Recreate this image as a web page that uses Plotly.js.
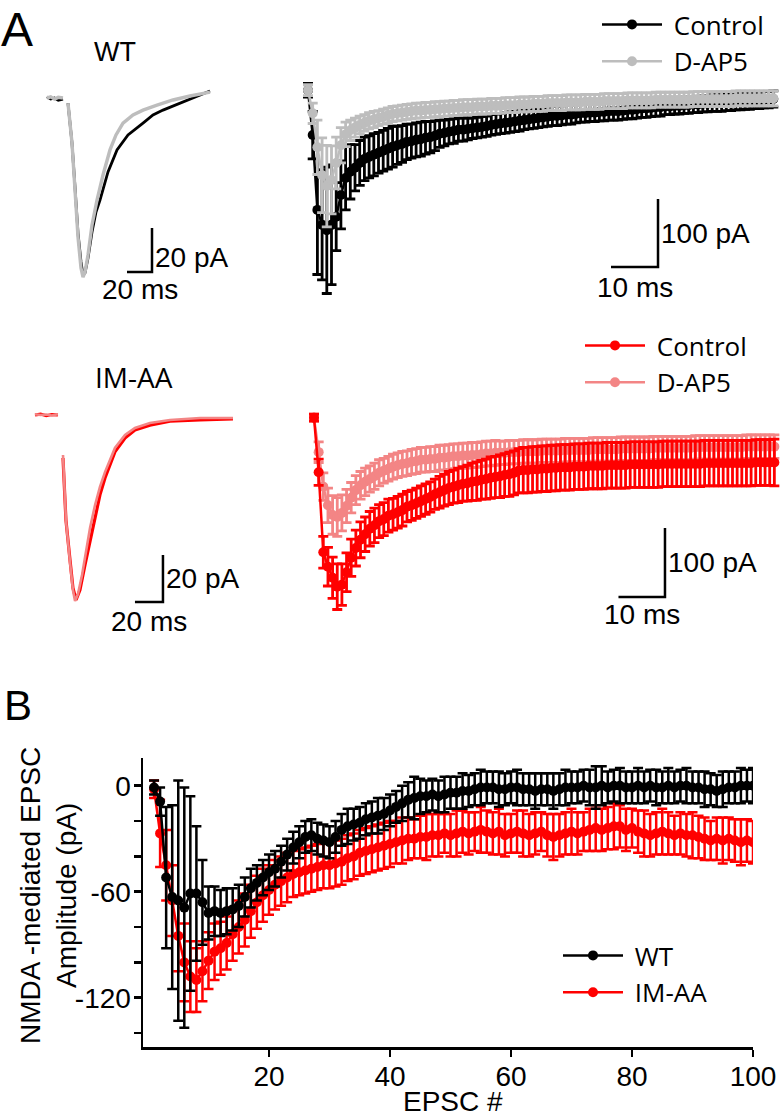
<!DOCTYPE html>
<html><head><meta charset="utf-8">
<script src="https://cdn.plot.ly/plotly-3.0.1.min.js"></script>
<style>html,body{margin:0;padding:0;background:#fff}#chart{width:782px;height:1118px}</style>
</head><body><div id="chart"></div>
<script>
// ---------------- DATA ----------------
// Panel A, example traces (time in ms, current in pA)
const wtCtrlTraceT = [0,3,6,9,12.8,null,16.8,20,22.4,24.8,27.2,28.8,30.4,32.8,36,39.2,42.4,48.8,56,64.8,76.8,84.8,92.8,102.4,112,120.8,130.4];
const wtCtrlTraceI = [0.5,-0.5,0,-1,-0.5,null,-2.3,-20.5,-40.5,-61.4,-74.5,-80.5,-79.5,-72.7,-60.9,-51.8,-46.4,-33.6,-23.6,-16.8,-11.4,-7.7,-5.5,-3.2,-0.9,0.9,3.2];
const wtDap5TraceT = [0,3,6,9,12.8,null,16.8,20,22.4,24.8,27.2,28.8,30.4,32.8,36,40,44.8,50.4,55.2,60.8,68.8,76.8,88,100.8,114.4,130.4];
const wtDap5TraceI = [0,0.5,-0.5,0.3,0,null,-2.3,-20.5,-41.8,-63.2,-77.3,-81.4,-79.1,-71.4,-57.7,-46.4,-35,-23.6,-16.8,-11.4,-7.7,-5.5,-3.2,-0.9,0.9,2.7];
const imCtrlTraceT = [0,4,8,12,16.4,null,20,22.1,25,27.1,29.3,32.1,35.7,39.3,42.9,46.4,50,53.6,57.1,64.3,71.4,82.1,96.4,117.9,141.4];
const imCtrlTraceI = [0,0.4,-0.3,0.2,0,null,-18.3,-44.7,-61.7,-73.6,-78.7,-74.5,-63.8,-53.2,-42.6,-34,-26.8,-21.3,-15.7,-9.8,-6.4,-4.3,-2.6,-2.1,-1.7];
const imDap5TraceT = [0,4,8,12,16.4,null,20,22.1,25,27.1,28.6,30.7,33.6,36.4,39.3,42.9,46.4,50,53.6,57.1,64.3,71.4,82.1,96.4,117.9,141.4];
const imDap5TraceI = [0.3,0,0.2,-0.2,0.3,null,-17,-44.7,-62.6,-74.5,-79.1,-76.2,-68.1,-57.4,-48.1,-38.3,-30.6,-24.3,-19.1,-14,-8.5,-5.5,-3.4,-2.1,-1.3,-1.3];

// EPSC number in the train
const epscNum = Array.from({length:100},(_,k)=>k+1);

// Panel A right, WT: amplitude (pA) and SEM
const wtCtrlAmp = [-15,-81,-191,-213,-221,-213,-201,-169,-144,-135,
 -129,-122,-116,-113,-110,-107,-104,-101,-98,-96,
 -94,-91,-90,-88,-87,-85,-84,-82,-79,-78,
 -76,-75,-73,-73,-72,-71,-70,-69,-68,-66,
 -65,-64,-63,-62,-61,-60,-59,-58,-57,-56,
 -55,-54,-53,-53,-52,-51,-51,-50,-49,-49,
 -48,-48,-47,-47,-46,-46,-46,-45,-44,-44,
 -43,-42,-42,-41,-40,-40,-39,-39,-38,-38,
 -37,-37,-36,-36,-35,-35,-34,-34,-34,-33,
 -33,-32,-32,-31,-31,-30,-30,-29,-29,-28];
const wtCtrlSem = [10,35,95,81,93,88,50,50,47,40,
 34,33,32,31,31,30,30,30,30,28,
 27,26,25,25,25,24,23,22,20,19,
 18,18,17,17,16,15,15,15,15,15,
 15,15,15,15,15,15,14,14,14,14,
 14,14,14,14,14,14,14,13,13,13,
 13,13,13,13,13,13,13,13,13,13,
 13,13,13,13,13,13,12,12,12,12,
 12,12,12,12,12,12,12,12,12,12,
 12,12,12,12,12,12,12,12,12,12];
const wtDap5Amp = [-15,-49,-99,-140,-156,-147,-122,-96,-80,-74,
 -70,-66,-63,-60,-58,-56,-54,-52,-50,-49,
 -48,-47,-46,-45,-45,-44,-44,-43,-43,-42,
 -42,-41,-41,-40,-40,-40,-39,-39,-39,-38,
 -38,-38,-37,-37,-37,-36,-36,-36,-35,-35,
 -35,-34,-34,-34,-34,-33,-33,-33,-33,-32,
 -32,-32,-32,-31,-31,-31,-31,-31,-30,-30,
 -30,-30,-30,-30,-29,-29,-29,-29,-29,-29,
 -29,-29,-28,-28,-28,-28,-28,-28,-28,-28,
 -28,-27,-27,-27,-27,-27,-27,-27,-27,-27];
const wtDap5Sem = [8,15,40,55,60,50,38,26,18,15,
 14,13,12,12,12,11,11,11,11,11,
 11,11,11,11,11,11,11,11,11,11,
 11,11,11,11,11,11,11,11,11,11,
 11,11,11,11,11,11,11,11,11,11,
 11,11,11,11,11,11,11,11,11,11,
 11,11,11,11,11,11,11,11,11,11,
 11,11,11,11,11,11,11,11,11,11,
 11,11,11,11,11,11,11,11,11,11,
 11,11,11,11,11,11,11,11,11,11];

// Panel A right, IM-AA
const imCtrlAmp = [-14,-93,-209,-230,-246,-259,-256,-238,-217,-203,
 -191,-183,-175,-170,-164,-161,-156,-154,-151,-148,
 -143,-141,-138,-135,-132,-129,-125,-122,-119,-116,
 -114,-112,-110,-109,-107,-106,-104,-103,-101,-100,
 -99,-97,-96,-94,-91,-90,-90,-89,-89,-88,
 -88,-87,-87,-86,-86,-86,-85,-85,-85,-84,
 -84,-84,-84,-83,-83,-83,-83,-83,-82,-82,
 -82,-82,-82,-82,-82,-81,-81,-81,-81,-81,
 -81,-81,-81,-81,-80,-80,-80,-80,-80,-80,
 -80,-80,-80,-80,-80,-79,-79,-79,-79,-79];
const imCtrlSem = [5,19,23,28,30,33,30,28,27,26,
 26,25,25,25,24,24,24,23,23,23,
 22,22,22,22,22,22,22,23,23,24,
 24,25,25,26,27,28,28,29,30,30,
 31,31,32,32,32,33,33,33,33,33,
 33,33,33,33,33,33,33,33,33,33,
 33,33,33,33,33,33,33,33,33,33,
 33,33,33,33,33,33,33,33,33,33,
 33,33,33,33,33,33,33,33,33,33,
 33,33,33,33,33,33,33,33,33,34];
const imDap5Amp = [-14,-64,-114,-141,-155,-158,-152,-142,-130,-119,
 -112,-107,-103,-99,-94,-91,-88,-85,-83,-81,
 -80,-78,-77,-75,-75,-74,-74,-72,-72,-71,
 -70,-70,-69,-69,-68,-68,-67,-66,-66,-65,
 -65,-65,-64,-64,-64,-63,-63,-63,-63,-62,
 -62,-62,-62,-62,-61,-61,-61,-61,-61,-61,
 -60,-60,-60,-60,-60,-60,-59,-59,-59,-59,
 -59,-59,-59,-58,-58,-58,-58,-58,-58,-58,
 -58,-58,-57,-57,-57,-57,-57,-57,-57,-57,
 -57,-57,-57,-56,-56,-56,-56,-56,-56,-56];
const imDap5Sem = [5,15,20,25,28,28,26,24,22,21,
 20,20,19,19,19,18,18,18,18,18,
 18,18,18,18,18,18,18,18,18,18,
 18,18,18,18,18,18,18,18,18,18,
 17,17,17,17,17,17,17,17,17,17,
 17,17,17,17,17,17,17,17,17,17,
 17,17,17,17,17,17,17,17,17,17,
 17,17,17,17,17,17,17,17,17,17,
 17,17,17,17,17,17,17,17,17,17,
 17,17,17,17,17,17,17,17,17,17];

// Panel B: NMDA-mediated EPSC amplitude (pA), mean and SEM
const wtNmda = [-1,-9,-52,-63,-65,-69,-61,-61,-66,-72,
 -71,-72,-71,-70,-68,-63,-58,-55,-52,-49,
 -47,-43,-39,-35,-32,-29,-28,-30,-31,-32,
 -29,-25,-23,-22,-21,-19,-18,-17,-16,-14,
 -12,-10,-8,-7,-6,-6,-5,-6,-5,-4,
 -4,-3,-3,-2,-1,-1,-1,-2,-2,-1,
 -1,-2,-2,-3,-2,-2,-3,-2,-1,-1,
 -1,0,-1,-1,0,-1,0,0,-1,-1,
 0,-1,0,-1,-1,0,-1,0,0,-1,
 -1,-2,-2,-3,-2,-1,-1,0,0,0];
const wtNmdaSem = [4,8,40,52,68,68,55,38,24,15,
 14,13,13,12,12,11,11,10,10,10,
 10,9,9,9,9,9,9,9,9,9,
 9,9,10,9,9,9,9,10,9,9,
 9,10,10,12,10,9,9,9,10,9,
 9,10,9,9,10,9,9,10,9,9,
 10,9,9,10,9,9,10,9,10,9,
 9,9,10,12,11,9,9,10,9,9,
 10,9,9,10,9,10,9,9,10,9,
 9,10,9,9,10,9,9,10,9,10];
const imNmda = [-2,-27,-45,-65,-85,-100,-108,-110,-105,-99,
 -94,-92,-89,-84,-80,-76,-71,-66,-62,-59,
 -56,-54,-52,-50,-49,-48,-47,-46,-45,-45,
 -44,-43,-41,-40,-38,-37,-36,-35,-34,-33,
 -32,-31,-30,-30,-29,-29,-28,-28,-27,-28,
 -27,-26,-27,-26,-25,-26,-27,-26,-28,-27,
 -26,-27,-28,-27,-26,-28,-29,-28,-27,-26,
 -27,-26,-25,-24,-25,-24,-23,-23,-25,-24,
 -26,-27,-28,-27,-26,-27,-28,-27,-28,-28,
 -29,-30,-31,-30,-31,-30,-31,-32,-31,-32];
const imNmdaSem = [5,19,20,20,20,22,20,18,17,16,
 16,15,15,15,15,15,15,15,15,14,
 14,14,14,13,13,13,13,13,13,13,
 13,13,13,13,13,13,13,13,13,13,
 12,13,12,11,12,13,12,12,11,12,
 13,12,12,11,13,12,12,13,12,11,
 12,13,12,12,11,12,13,12,12,13,
 12,11,12,13,12,12,13,12,12,11,
 12,13,12,12,13,12,11,12,12,13,
 12,12,11,12,13,12,12,13,12,12];

// ---------------- LAYOUT HELPERS ----------------
const W = 782, H = 1118;
const xd = (a,b) => [a/W, b/W];
const yd = (top,bot) => [1-bot/H, 1-top/H];
const xr = (lo,hi,px0,v0,s) => [v0+(lo-px0)/s, v0+(hi-px0)/s];
const yr = (top,bot,py0,s) => [(py0-bot)/s, (py0-top)/s];

const BLACK='#000000', GRAY='#bdbdbd', RED='#ff0000', PINK='#f38585';
const SANS='Liberation Sans, Arial, sans-serif';
const HUM='Open Sans, DejaVu Sans, sans-serif';
const NB='\u00a0';

function lineTrace(x,y,color,width){
  return {x:x,y:y,mode:'lines',line:{color:color,width:width},
    showlegend:false,hoverinfo:'skip',connectgaps:false};
}
function errTrace(name,y,err,color,ax,leg,rank,msize,ew,th){
  return {x:epscNum,y:y,name:NB+name,mode:'lines+markers',xaxis:'x'+ax,yaxis:'y'+ax,
    line:{color:color,width:2.5},marker:{color:color,size:msize},
    error_y:{type:'data',array:err,visible:true,color:color,thickness:th,width:ew},
    legend:leg,legendrank:rank,hoverinfo:'skip'};
}
function onAxes(t,ax){ t.xaxis='x'+ax; t.yaxis='y'+ax; return t; }

const data = [
  onAxes(lineTrace(wtCtrlTraceT,wtCtrlTraceI,BLACK,2.8),''),
  onAxes(lineTrace(wtDap5TraceT,wtDap5TraceI,GRAY,3.4),''),
  errTrace('Control',wtCtrlAmp,wtCtrlSem,BLACK,'2','legend',1,10,5,2.8),
  errTrace('D-AP5',wtDap5Amp,wtDap5Sem,GRAY,'2','legend',2,10,5,2.8),
  onAxes(lineTrace(imCtrlTraceT,imCtrlTraceI,RED,3.2),'3'),
  onAxes(lineTrace(imDap5TraceT,imDap5TraceI,PINK,2.6),'3'),
  errTrace('D-AP5',imDap5Amp,imDap5Sem,PINK,'4','legend2',2,10,5,2.8),
  errTrace('Control',imCtrlAmp,imCtrlSem,RED,'4','legend2',1,10,5,2.8),
  errTrace('IM-AA',imNmda,imNmdaSem,RED,'5','legend3',2,10,5,2.5),
  errTrace('WT',wtNmda,wtNmdaSem,BLACK,'5','legend3',1,10,5,2.5)
];
data[0].xaxis='x'; data[0].yaxis='y'; data[1].xaxis='x'; data[1].yaxis='y';

const hidden = (dom,rng) => ({domain:dom,range:rng,visible:false,fixedrange:true});

// scale bars: corner and lengths in data units of each panel
const bars = [
  {ax:'',  x:84,    y:-79.1, dx:20, dy:20, lx:'20 ms', ly:'20 pA', tyShift:-7, txShift:0},
  {ax:'2', x:75.47, y:-275,  dx:10, dy:100, lx:'10 ms', ly:'100 pA', tyShift:0, txShift:-3},
  {ax:'3', x:91.4,  y:-79.6, dx:20, dy:20, lx:'20 ms', ly:'20 pA', tyShift:0, txShift:-2},
  {ax:'4', x:76.48, y:-273.9,dx:10, dy:100, lx:'10 ms', ly:'100 pA', tyShift:0, txShift:0}
];
const shapes = [], annotations = [];
bars.forEach(b=>{
  const xa='x'+b.ax, ya='y'+b.ax;
  shapes.push({type:'path',xref:xa,yref:ya,
    path:`M${b.x-b.dx},${b.y} L${b.x},${b.y} L${b.x},${b.y+b.dy}`,
    line:{color:BLACK,width:2.5}});
  annotations.push({xref:xa,yref:ya,x:b.x,y:b.y+b.dy/2,text:b.ly,showarrow:false,
    xanchor:'left',yanchor:'middle',xshift:1,yshift:b.tyShift,font:{family:SANS,size:28,color:BLACK}});
  annotations.push({xref:xa,yref:ya,x:b.x-b.dx/2,y:b.y,text:b.lx,showarrow:false,
    xanchor:'center',yanchor:'top',yshift:b.txShift,font:{family:SANS,size:28,color:BLACK}});
});
const pap = (px,py,text,size,fam,opts) => Object.assign({xref:'paper',yref:'paper',x:px/W,y:1-py/H,text:text,
  showarrow:false,xanchor:'center',yanchor:'middle',font:{family:fam,size:size,color:BLACK}},opts||{});
annotations.push(pap(17,30,'A',48,SANS));
annotations.push(pap(18,705,'B',42,SANS));
annotations.push(pap(115,52,'WT',27,SANS));
annotations.push(pap(134,377,'IM-AA',28,HUM));
annotations.push(pap(48,896,'NMDA -mediated EPSC<br>Amplitude (pA)',28,SANS,{textangle:-90}));
annotations.push(pap(453,1101,'EPSC #',28,SANS));

const legendBase = (x,y) => ({x:x/W,y:1-y/H,xanchor:'left',yanchor:'top',bgcolor:'rgba(0,0,0,0)',
  borderwidth:0,itemwidth:60,tracegroupgap:0,font:{family:HUM,size:26,color:BLACK},itemclick:false,itemdoubleclick:false});

const layout = {
  width:W,height:H,margin:{l:0,r:0,t:0,b:0},paper_bgcolor:'#fff',plot_bgcolor:'rgba(0,0,0,0)',
  showlegend:true,
  xaxis: hidden(xd(40,240), xr(40,240,47,0,1.25)),
  yaxis: hidden(yd(80,295), yr(80,295,98,2.2)),
  xaxis2: hidden(xd(295,780), xr(295,780,308,1,4.7)),
  yaxis2: hidden(yd(75,300), yr(75,300,80,0.68)),
  xaxis3: hidden(xd(25,245), xr(25,245,35,0,1.4)),
  yaxis3: hidden(yd(400,640), yr(400,640,415,2.35)),
  xaxis4: hidden(xd(300,780), xr(300,780,314,1,4.65)),
  yaxis4: hidden(yd(400,620), yr(400,620,408,0.69)),
  xaxis5: {domain:xd(143,753),range:xr(143,753,148,0,6.05),anchor:'y5',showgrid:false,zeroline:false,
    showline:true,linecolor:BLACK,linewidth:2.5,ticks:'outside',ticklen:7,tickwidth:2.5,tickcolor:BLACK,
    tickvals:[20,40,60,80,100],tickfont:{family:SANS,size:28,color:BLACK},ticklabelstandoff:-4,fixedrange:true},
  yaxis5: {domain:yd(758,1047),range:yr(758,1047,785.7,1.767),anchor:'x5',showgrid:false,zeroline:false,
    showline:true,linecolor:BLACK,linewidth:2.5,ticks:'outside',ticklen:7,tickwidth:2.5,tickcolor:BLACK,
    tickvals:[0,-20,-40,-60,-80,-100,-120,-140],ticktext:['0','','','-60','','','-120',''],
    tickfont:{family:SANS,size:28,color:BLACK},ticklabelstandoff:-3,fixedrange:true},
  legend: legendBase(597,1),
  legend2: legendBase(580,322),
  legend3: legendBase(558,932),
  shapes:shapes, annotations:annotations
};
Plotly.newPlot('chart',data,layout,{staticPlot:true,displayModeBar:false});
</script></body></html>
